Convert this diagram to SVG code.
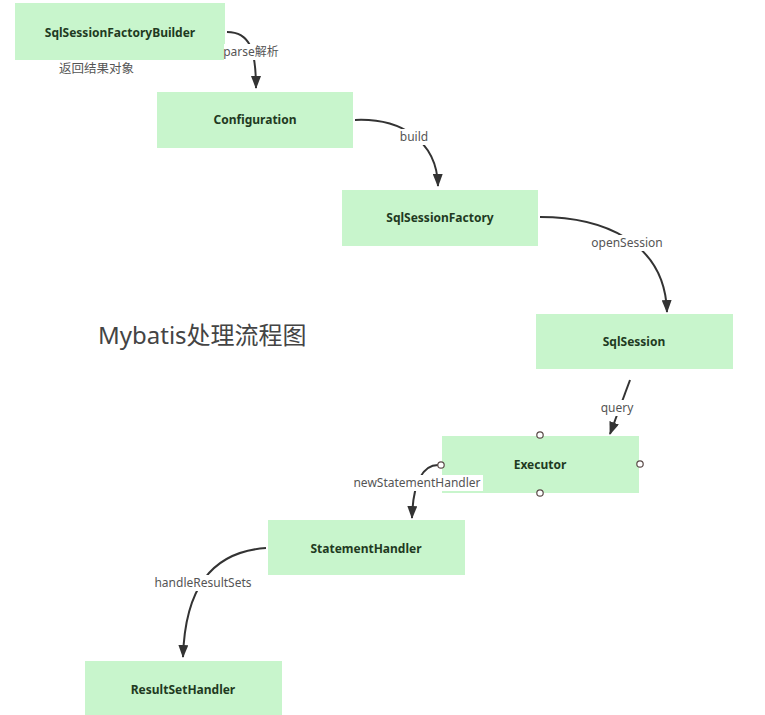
<svg xmlns="http://www.w3.org/2000/svg" width="765" height="715" viewBox="0 0 765 715">
<style>
.node rect{fill:#c8f5cc;}
.node text{font-family:"Noto Sans","Noto Sans CJK SC",sans-serif;font-size:12px;font-weight:bold;fill:#1f3a22;text-anchor:middle;}
.conn path{fill:none;stroke:#333;stroke-width:2;}
.lbl rect{fill:#fff;}
.lbl text{font-family:"Noto Sans","Noto Sans CJK SC",sans-serif;font-size:12px;fill:#555;text-anchor:middle;}
.port{fill:#fff;stroke:#5a4a48;stroke-width:1.2;}
</style>
<defs>
<marker id="arr" viewBox="0 0 13 10" refX="12" refY="5" markerWidth="13" markerHeight="10" markerUnits="userSpaceOnUse" orient="auto">
<path d="M0,0 L13,5 L0,10 Z" fill="#333"/>
</marker>
</defs>
<rect width="765" height="715" fill="#fff"/>

<g id="title">
<text x="98" y="344" font-family="'Noto Sans','Noto Sans CJK SC',sans-serif" font-size="24" fill="#444">Mybatis处理流程图</text>
</g>
<g id="note">
<text x="59" y="73" font-family="'Noto Sans','Noto Sans CJK SC',sans-serif" font-size="12.5" fill="#555">返回结果对象</text>
</g>

<g class="conn" id="connectors">
<path d="M227,32 C250,32 256,50 256,88" marker-end="url(#arr)"/>
<path d="M355,120 C400,118 437,140 438,186" marker-end="url(#arr)"/>
<path d="M540,217 C600,217 665,240 667,312" marker-end="url(#arr)"/>
<path d="M630,380 L610,434" marker-end="url(#arr)"/>
<path d="M438,465 C424,465 413,480 412,518" marker-end="url(#arr)"/>
<path d="M266,548 C210,552 185,590 183,657" marker-end="url(#arr)"/>
</g>

<g class="node" id="n-builder"><rect x="15" y="3" width="210" height="57"/><text x="120" y="37">SqlSessionFactoryBuilder</text></g>
<g class="node" id="n-config"><rect x="157" y="92" width="196" height="56"/><text x="255" y="124">Configuration</text></g>
<g class="node" id="n-factory"><rect x="342" y="190" width="196" height="56"/><text x="440" y="222">SqlSessionFactory</text></g>
<g class="node" id="n-session"><rect x="536" y="314" width="197" height="55"/><text x="634" y="346">SqlSession</text></g>
<g class="node" id="n-executor"><rect x="442" y="436" width="197" height="57"/><text x="540" y="469">Executor</text>
<circle class="port" cx="540" cy="435" r="3.2"/>
<circle class="port" cx="640" cy="464" r="3.2"/>
<circle class="port" cx="540" cy="493" r="3.2"/>
<circle class="port" cx="441" cy="465" r="3.2"/>
</g>
<g class="node" id="n-statement"><rect x="268" y="520" width="197" height="55"/><text x="366" y="553">StatementHandler</text></g>
<g class="node" id="n-resultset"><rect x="85" y="661" width="197" height="54"/><text x="183" y="694">ResultSetHandler</text></g>

<g class="lbl" id="labels">
<rect x="224" y="44" width="54" height="16"/><text x="251" y="56">parse解析</text>
<rect x="398" y="129" width="32" height="16"/><text x="414" y="141">build</text>
<rect x="590" y="235" width="74" height="16"/><text x="627" y="247">openSession</text>
<rect x="598" y="400" width="38" height="16"/><text x="617" y="412">query</text>
<rect x="352" y="475" width="131" height="16"/><text x="417" y="487">newStatementHandler</text>
<rect x="153" y="575" width="100" height="16"/><text x="203" y="587">handleResultSets</text>
</g>
</svg>
